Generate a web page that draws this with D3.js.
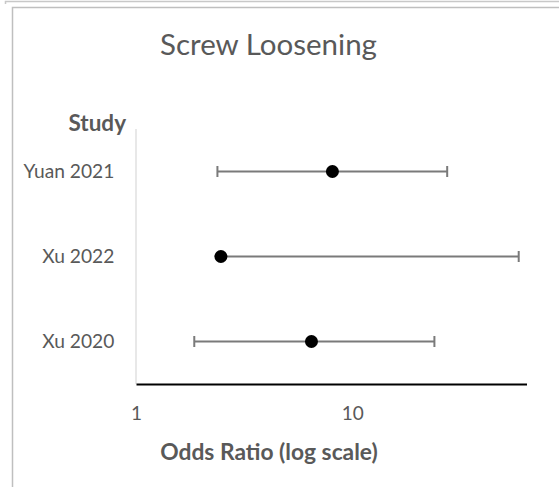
<!DOCTYPE html>
<html><head><meta charset="utf-8">
<script src="https://cdn.jsdelivr.net/npm/d3@7"></script>
<style>body{margin:0;background:#fff;}svg{display:block;}</style>
</head><body>
<script>
const studies = ["Yuan 2021", "Xu 2022", "Xu 2020"];
const oddsRatio = [8.1, 2.47, 6.48];
const lowerCI = [2.38, null, 1.86];
const upperCI = [27.5, 58.9, 24.0];
const tickValues = [1, 10];
const xDomain = [1, 64];

const W = 559, H = 487;
const svg = d3.select("body").append("svg").attr("width", W).attr("height", H);
const font = "Lato, 'Open Sans', sans-serif";
const textColor = "#595959";

// frame
svg.append("path").attr("d", "M5.5,4 L5.5,1.5 L559,1.5").attr("fill","none").attr("stroke","#c8c8c8").attr("stroke-width",1.5);
svg.append("path").attr("d", "M12.5,487 L12.5,7.5 L559,7.5").attr("fill","none").attr("stroke","#bfbfbf").attr("stroke-width",1.5);

const x = d3.scaleLog().domain(xDomain).range([136, 526.5]);
const y = d3.scaleBand().domain(studies).range([129, 384]);

svg.append("text").attr("x", 268.5).attr("y", 55).attr("text-anchor","middle")
  .attr("font-family", font).attr("font-size", 29.5).attr("fill", textColor).text("Screw Loosening");

// y axis line
svg.append("line").attr("x1",136).attr("x2",136).attr("y1",129).attr("y2",384)
  .attr("stroke","#d9d9d9").attr("stroke-width",1.2);

const yAxis = d3.axisLeft(y).tickSize(0).tickPadding(21.7);
const gy = svg.append("g").attr("transform","translate(136,0)").call(yAxis);
gy.select(".domain").remove();
gy.selectAll("text").attr("font-family", font).attr("font-size", 19.2).attr("fill", textColor);

svg.append("text").attr("x", 126).attr("y", 131).attr("text-anchor","end")
  .attr("font-family", font).attr("font-size", 22.5).attr("font-weight","bold").attr("fill", textColor).text("Study");

// x axis
const xAxis = d3.axisBottom(x).tickValues(tickValues).tickFormat(d3.format("d")).tickSize(0).tickPadding(22.5);
const gx = svg.append("g").attr("transform","translate(0,384)").call(xAxis);
gx.select(".domain").attr("stroke","#000").attr("stroke-width",2.2);
gx.selectAll("text").attr("font-family", font).attr("font-size", 19).attr("fill", textColor);

svg.append("text").attr("x", 269).attr("y", 460).attr("text-anchor","middle")
  .attr("font-family", font).attr("font-size", 22.8).attr("font-weight","bold").attr("fill", textColor).text("Odds Ratio (log scale)");

const rows = studies.map((s,i)=>({s, or: oddsRatio[i], lo: lowerCI[i], hi: upperCI[i]}));
const g = svg.append("g");
const barColor = "#7a7a7a";
rows.forEach(d=>{
  const cy = y(d.s) + y.bandwidth()/2;
  const x0 = d.lo == null ? x(d.or) : x(d.lo);
  g.append("line").attr("x1", x0).attr("x2", x(d.hi)).attr("y1", cy).attr("y2", cy)
    .attr("stroke", barColor).attr("stroke-width", 2);
  if (d.lo != null) g.append("line").attr("x1", x(d.lo)).attr("x2", x(d.lo)).attr("y1", cy-5.5).attr("y2", cy+5.5).attr("stroke", barColor).attr("stroke-width", 2);
  g.append("line").attr("x1", x(d.hi)).attr("x2", x(d.hi)).attr("y1", cy-5.5).attr("y2", cy+5.5).attr("stroke", barColor).attr("stroke-width", 2);
  g.append("circle").attr("cx", x(d.or)).attr("cy", cy).attr("r", 6.5).attr("fill", "#000");
});
</script>
</body></html>
